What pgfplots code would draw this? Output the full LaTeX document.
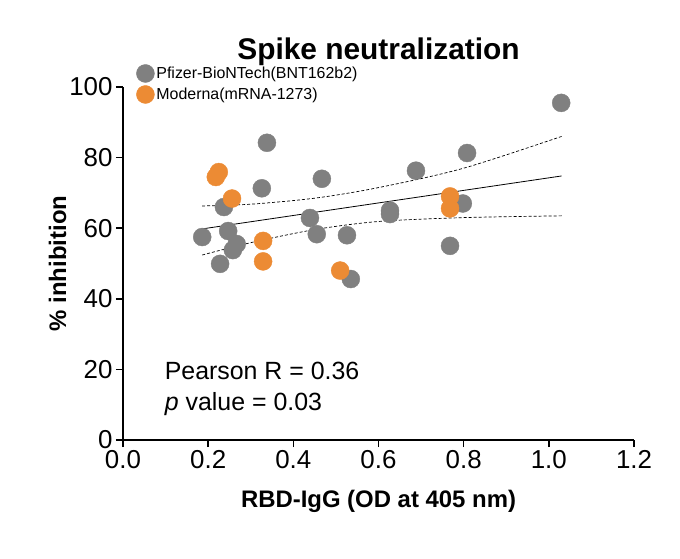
\documentclass[border=0pt]{standalone}
\usepackage{pgfplots}
\pgfplotsset{compat=1.18}
\usepackage{fontspec}
\setmainfont{Liberation Sans}
\definecolor{gr}{RGB}{128,128,128}
\definecolor{orn}{RGB}{236,139,52}
\begin{document}
\begin{tikzpicture}
\useasboundingbox (-123bp,-119bp) rectangle (557bp,440bp);
\begin{axis}[at={(0,0)},anchor=south west,scale only axis,
 width=511bp,height=353bp,xmin=0,xmax=1.2,ymin=0,ymax=100,
 axis x line*=bottom, axis y line*=left, axis line style={line width=1.6bp,-},
 xtick={0,0.2,...,1.2}, ytick={0,20,...,100},
 tick style={line width=1.6bp,black}, tick align=outside, major tick length=7bp,
 x tick label style={/pgf/number format/.cd,fixed,fixed zerofill,precision=1},
 /pgf/number format/assume math mode=true,
 ticklabel style={font=\fontsize{26}{30}\selectfont},
 xlabel={\bfseries RBD-IgG (OD at 405 nm)}, ylabel={\bfseries \% inhibition},
 label style={font=\fontsize{24}{28}\selectfont},
 xlabel style={yshift=-14bp}, ylabel style={yshift=-4bp},
 title={\bfseries Spike neutralization}, title style={font=\fontsize{30}{34}\selectfont,yshift=12bp},
 legend style={at={(0.02,1.07)},anchor=north west,draw=none,fill=none,font=\fontsize{16}{19}\selectfont,row sep=3bp},
 legend cell align=left, clip=false]
\addplot[only marks,mark=*,mark size=9bp,gr,mark options={draw=gr,fill=gr}] coordinates {
(0.186,57.5)(0.237,66)(0.247,59.2)(0.228,49.9)(0.258,53.8)(0.267,55.5)(0.326,71.3)(0.338,84.2)
(0.439,62.9)(0.455,58.3)(0.467,74)(0.526,58)(0.535,45.6)(0.627,64)(0.627,65)(0.688,76.3)
(0.768,55)(0.798,67)(0.808,81.3)(1.029,95.5)};
\addlegendentry{Pfizer-BioNTech(BNT162b2)}
\addplot[only marks,mark=*,mark size=9bp,orn,mark options={draw=orn,fill=orn}] coordinates {
(0.218,74.5)(0.225,75.9)(0.256,68.4)(0.329,56.4)(0.329,50.6)(0.51,48)(0.768,69)(0.768,65.6)};
\addlegendentry{Moderna(mRNA-1273)}
\addplot[black,line width=0.8bp,forget plot] coordinates {(0.186,59.8)(1.03,74.8)};
\addplot[black,dash pattern=on 3bp off 2bp,line width=0.7bp,smooth,forget plot] coordinates {(0.186,66.3)(0.3,66.8)(0.45,68.5)(0.6,71.5)(0.8,77)(1.03,86)};
\addplot[black,dash pattern=on 3bp off 2bp,line width=0.7bp,smooth,forget plot] coordinates {(0.186,52.4)(0.3,55.9)(0.45,59.6)(0.6,61.9)(0.8,63)(1.03,63.5)};
\node[anchor=west,align=left,font=\fontsize{25}{31}\selectfont] at (axis cs:0.09,14.5) {Pearson R = 0.36\\\textit{p} value = 0.03};
\end{axis}
\end{tikzpicture}
\end{document}
